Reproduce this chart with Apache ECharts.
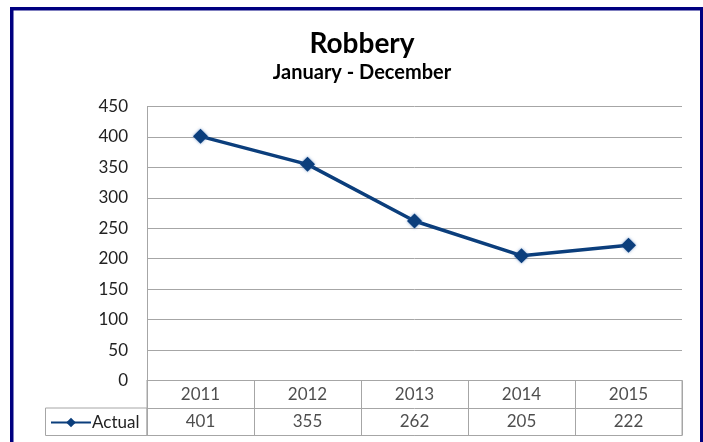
<!DOCTYPE html>
<html><head><meta charset="utf-8">
<script src="https://cdn.jsdelivr.net/npm/echarts@6/dist/echarts.min.js"></script>
<style>html,body{margin:0;padding:0;background:#fff}#c{width:703px;height:442px}</style>
</head><body><div id="c"></div>
<script>
var years = ['2011', '2012', '2013', '2014', '2015'];
var actual = [401, 355, 262, 205, 222];
var yTicks = [0, 450, 50]; // min, max, interval
var seriesName = 'Actual';

var FONT = 'Lato';
var tableYears = years.map(function (y, i) { return [i, 1.5, y]; });
var tableVals = actual.map(function (v, i) { return [i, 0.5, String(v)]; });

var chart = echarts.init(document.getElementById('c'));
chart.setOption({
  animation: false,
  textStyle: { fontFamily: FONT },
  title: [
    { text: 'Robbery', left: 357, textAlign: 'center', top: 25,
      textStyle: { fontFamily: FONT, fontWeight: 'bold', fontSize: 28, color: '#000' } },
    { text: 'January - December', left: 357, textAlign: 'center', top: 58,
      textStyle: { fontFamily: FONT, fontWeight: 'bold', fontSize: 20, color: '#000' } }
  ],
  legend: {
    data: [seriesName], left: 45, top: 409, itemWidth: 40, itemHeight: 12, itemGap: 0,
    textStyle: { fontFamily: FONT, fontSize: 17, color: '#222', padding: [0, 0, 0, -4] }
  },
  grid: [
    { left: 147, top: 106.5, width: 535, height: 274, containLabel: false },
    { left: 147, top: 380.5, width: 535, height: 55, show: true, borderColor: '#a6a6a6', borderWidth: 1 }
  ],
  xAxis: [
    { type: 'category', gridIndex: 0, data: years, boundaryGap: true,
      axisLine: { show: true, lineStyle: { color: '#a6a6a6' } }, axisTick: { show: false },
      axisLabel: { show: false }, splitLine: { show: false } },
    { type: 'category', gridIndex: 1, data: years, boundaryGap: true,
      axisLine: { show: false }, axisTick: { show: false }, axisLabel: { show: false },
      splitLine: { show: true, lineStyle: { color: '#a6a6a6' } } }
  ],
  yAxis: [
    { type: 'value', gridIndex: 0, min: yTicks[0], max: yTicks[1], interval: yTicks[2],
      axisLine: { show: true, lineStyle: { color: '#a6a6a6' } }, axisTick: { show: false },
      axisLabel: { fontFamily: FONT, fontSize: 17, color: '#222', margin: 19 },
      splitLine: { show: true, lineStyle: { color: '#a6a6a6' } } },
    { type: 'value', gridIndex: 1, min: 0, max: 2, interval: 1,
      axisLine: { show: false }, axisTick: { show: false }, axisLabel: { show: false },
      splitLine: { show: true, lineStyle: { color: '#a6a6a6' } } }
  ],
  series: [
    { name: seriesName, type: 'line', xAxisIndex: 0, yAxisIndex: 0, data: actual,
      symbol: 'diamond', symbolSize: 15,
      lineStyle: { color: '#0b3e7c', width: 3.5 },
      itemStyle: { color: '#0b3e7c', shadowColor: 'rgba(60,110,180,0.7)', shadowBlur: 3 } },
    { type: 'scatter', xAxisIndex: 1, yAxisIndex: 1, data: tableYears, symbolSize: 0, silent: true,
      label: { show: true, position: 'inside', formatter: function (p) { return p.data[2]; },
        fontFamily: FONT, fontSize: 17, color: '#222' } },
    { type: 'scatter', xAxisIndex: 1, yAxisIndex: 1, data: tableVals, symbolSize: 0, silent: true,
      label: { show: true, position: 'inside', formatter: function (p) { return p.data[2]; },
        fontFamily: FONT, fontSize: 17, color: '#222' } }
  ],
  graphic: [
    { type: 'rect', shape: { x: 45.5, y: 408, width: 101.5, height: 27.5 },
      style: { fill: 'none', stroke: '#a6a6a6', lineWidth: 1 }, silent: true },
    { type: 'rect', shape: { x: 11.75, y: 8.75, width: 690, height: 500 },
      style: { fill: 'none', stroke: '#000080', lineWidth: 3.5 }, silent: true }
  ]
});
</script></body></html>
